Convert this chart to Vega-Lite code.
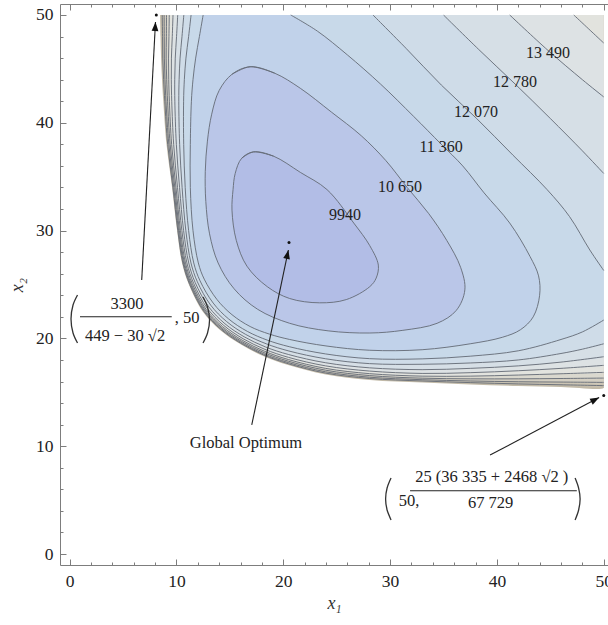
{
  "$schema": "https://vega.github.io/schema/vega-lite/v6.json",
  "width": 548,
  "height": 561,
  "autosize": {"type": "none"},
  "padding": {"left": 60, "top": 4, "right": 0, "bottom": 60},
  "background": "white",
  "config": {"view": {"stroke": "#7d7d7d", "strokeWidth": 1}, "font": "Liberation Serif"},
  "resolve": {"axis": {"x": "independent", "y": "independent"}},
  "datasets": {
    "c": [
      {"p":"p00","i":0,"x1":8.47,"x2":50,"s":null},{"p":"p00","i":1,"x1":8.51,"x2":48,"s":null},{"p":"p00","i":2,"x1":8.56,"x2":46,"s":null},{"p":"p00","i":3,"x1":8.65,"x2":44,"s":null},{"p":"p00","i":4,"x1":8.77,"x2":42,"s":null},{"p":"p00","i":5,"x1":9.07,"x2":38,"s":null},{"p":"p00","i":6,"x1":9.59,"x2":34,"s":null},{"p":"p00","i":7,"x1":10.06,"x2":30,"s":null},{"p":"p00","i":8,"x1":10.52,"x2":27,"s":null},{"p":"p00","i":9,"x1":11.18,"x2":24.95,"s":null},{"p":"p00","i":10,"x1":12.49,"x2":22.45,"s":null},{"p":"p00","i":11,"x1":14.08,"x2":20.78,"s":null},{"p":"p00","i":12,"x1":15.96,"x2":19.48,"s":null},{"p":"p00","i":13,"x1":18.11,"x2":18.37,"s":null},{"p":"p00","i":14,"x1":20.45,"x2":17.53,"s":null},{"p":"p00","i":15,"x1":23.97,"x2":16.65,"s":null},{"p":"p00","i":16,"x1":28.09,"x2":16.14,"s":null},{"p":"p00","i":17,"x1":33,"x2":15.91,"s":null},{"p":"p00","i":18,"x1":37.5,"x2":15.72,"s":null},{"p":"p00","i":19,"x1":42,"x2":15.58,"s":null},{"p":"p00","i":20,"x1":46,"x2":15.49,"s":null},{"p":"p00","i":21,"x1":50,"x2":15.4,"s":null},{"p":"p00","i":22,"x1":50,"x2":15.6,"s":null},{"p":"p00","i":23,"x1":50,"x2":49.8,"s":null},{"p":"p00","i":24,"x1":50,"x2":50,"s":null},

      {"p":"p01","i":0,"x1":8.67,"x2":50,"s":"s01"},{"p":"p01","i":1,"x1":8.70,"x2":48,"s":"s01"},{"p":"p01","i":2,"x1":8.72,"x2":46,"s":"s01"},{"p":"p01","i":3,"x1":8.80,"x2":44,"s":"s01"},{"p":"p01","i":4,"x1":8.91,"x2":42,"s":"s01"},{"p":"p01","i":5,"x1":9.18,"x2":38,"s":"s01"},{"p":"p01","i":6,"x1":9.67,"x2":34,"s":"s01"},{"p":"p01","i":7,"x1":10.13,"x2":30,"s":"s01"},{"p":"p01","i":8,"x1":10.60,"x2":27,"s":"s01"},{"p":"p01","i":9,"x1":11.25,"x2":24.98,"s":"s01"},{"p":"p01","i":10,"x1":12.56,"x2":22.51,"s":"s01"},{"p":"p01","i":11,"x1":14.14,"x2":20.85,"s":"s01"},{"p":"p01","i":12,"x1":16.00,"x2":19.56,"s":"s01"},{"p":"p01","i":13,"x1":18.14,"x2":18.47,"s":"s01"},{"p":"p01","i":14,"x1":20.46,"x2":17.65,"s":"s01"},{"p":"p01","i":15,"x1":23.97,"x2":16.78,"s":"s01"},{"p":"p01","i":16,"x1":28.09,"x2":16.28,"s":"s01"},{"p":"p01","i":17,"x1":33,"x2":16.05,"s":"s01"},{"p":"p01","i":18,"x1":37.5,"x2":15.9,"s":"s01"},{"p":"p01","i":19,"x1":42,"x2":15.78,"s":"s01"},{"p":"p01","i":20,"x1":46,"x2":15.7,"s":"s01"},{"p":"p01","i":21,"x1":50,"x2":15.62,"s":"s01"},{"p":"p01","i":22,"x1":50,"x2":15.82,"s":null},{"p":"p01","i":23,"x1":50,"x2":49.8,"s":null},{"p":"p01","i":24,"x1":50,"x2":50,"s":null},

      {"p":"p02","i":0,"x1":8.85,"x2":50,"s":"s02"},{"p":"p02","i":1,"x1":8.86,"x2":48,"s":"s02"},{"p":"p02","i":2,"x1":8.87,"x2":46,"s":"s02"},{"p":"p02","i":3,"x1":8.93,"x2":44,"s":"s02"},{"p":"p02","i":4,"x1":9.02,"x2":42,"s":"s02"},{"p":"p02","i":5,"x1":9.29,"x2":38,"s":"s02"},{"p":"p02","i":6,"x1":9.75,"x2":34,"s":"s02"},{"p":"p02","i":7,"x1":10.20,"x2":30,"s":"s02"},{"p":"p02","i":8,"x1":10.67,"x2":27,"s":"s02"},{"p":"p02","i":9,"x1":11.32,"x2":25.0,"s":"s02"},{"p":"p02","i":10,"x1":12.62,"x2":22.56,"s":"s02"},{"p":"p02","i":11,"x1":14.19,"x2":20.92,"s":"s02"},{"p":"p02","i":12,"x1":16.05,"x2":19.63,"s":"s02"},{"p":"p02","i":13,"x1":18.17,"x2":18.56,"s":"s02"},{"p":"p02","i":14,"x1":20.46,"x2":17.76,"s":"s02"},{"p":"p02","i":15,"x1":23.97,"x2":16.9,"s":"s02"},{"p":"p02","i":16,"x1":28.09,"x2":16.4,"s":"s02"},{"p":"p02","i":17,"x1":33,"x2":16.17,"s":"s02"},{"p":"p02","i":18,"x1":37.5,"x2":16.05,"s":"s02"},{"p":"p02","i":19,"x1":42,"x2":15.98,"s":"s02"},{"p":"p02","i":20,"x1":46,"x2":15.95,"s":"s02"},{"p":"p02","i":21,"x1":50,"x2":15.92,"s":"s02"},{"p":"p02","i":22,"x1":50,"x2":16.12,"s":null},{"p":"p02","i":23,"x1":50,"x2":49.8,"s":null},{"p":"p02","i":24,"x1":50,"x2":50,"s":null},

      {"p":"p03","i":0,"x1":9.07,"x2":50,"s":"s03"},{"p":"p03","i":1,"x1":9.06,"x2":48,"s":"s03"},{"p":"p03","i":2,"x1":9.04,"x2":46,"s":"s03"},{"p":"p03","i":3,"x1":9.09,"x2":44,"s":"s03"},{"p":"p03","i":4,"x1":9.17,"x2":42,"s":"s03"},{"p":"p03","i":5,"x1":9.41,"x2":38,"s":"s03"},{"p":"p03","i":6,"x1":9.85,"x2":34,"s":"s03"},{"p":"p03","i":7,"x1":10.28,"x2":30,"s":"s03"},{"p":"p03","i":8,"x1":10.75,"x2":27,"s":"s03"},{"p":"p03","i":9,"x1":11.39,"x2":25.03,"s":"s03"},{"p":"p03","i":10,"x1":12.69,"x2":22.62,"s":"s03"},{"p":"p03","i":11,"x1":14.25,"x2":20.99,"s":"s03"},{"p":"p03","i":12,"x1":16.1,"x2":19.72,"s":"s03"},{"p":"p03","i":13,"x1":18.2,"x2":18.68,"s":"s03"},{"p":"p03","i":14,"x1":20.47,"x2":17.89,"s":"s03"},{"p":"p03","i":15,"x1":23.97,"x2":17.05,"s":"s03"},{"p":"p03","i":16,"x1":28.09,"x2":16.55,"s":"s03"},{"p":"p03","i":17,"x1":33,"x2":16.31,"s":"s03"},{"p":"p03","i":18,"x1":37.5,"x2":16.25,"s":"s03"},{"p":"p03","i":19,"x1":42,"x2":16.25,"s":"s03"},{"p":"p03","i":20,"x1":46,"x2":16.28,"s":"s03"},{"p":"p03","i":21,"x1":50,"x2":16.32,"s":"s03"},{"p":"p03","i":22,"x1":50,"x2":16.52,"s":null},{"p":"p03","i":23,"x1":50,"x2":49.8,"s":null},{"p":"p03","i":24,"x1":50,"x2":50,"s":null},

      {"p":"p04","i":0,"x1":9.33,"x2":50,"s":"s04"},{"p":"p04","i":1,"x1":9.30,"x2":48,"s":"s04"},{"p":"p04","i":2,"x1":9.26,"x2":46,"s":"s04"},{"p":"p04","i":3,"x1":9.28,"x2":44,"s":"s04"},{"p":"p04","i":4,"x1":9.34,"x2":42,"s":"s04"},{"p":"p04","i":5,"x1":9.55,"x2":38,"s":"s04"},{"p":"p04","i":6,"x1":9.96,"x2":34,"s":"s04"},{"p":"p04","i":7,"x1":10.38,"x2":30,"s":"s04"},{"p":"p04","i":8,"x1":10.85,"x2":27,"s":"s04"},{"p":"p04","i":9,"x1":11.49,"x2":25.07,"s":"s04"},{"p":"p04","i":10,"x1":12.77,"x2":22.7,"s":"s04"},{"p":"p04","i":11,"x1":14.32,"x2":21.09,"s":"s04"},{"p":"p04","i":12,"x1":16.16,"x2":19.83,"s":"s04"},{"p":"p04","i":13,"x1":18.24,"x2":18.81,"s":"s04"},{"p":"p04","i":14,"x1":20.48,"x2":18.04,"s":"s04"},{"p":"p04","i":15,"x1":23.97,"x2":17.22,"s":"s04"},{"p":"p04","i":16,"x1":28.08,"x2":16.73,"s":"s04"},{"p":"p04","i":17,"x1":33,"x2":16.5,"s":"s04"},{"p":"p04","i":18,"x1":37.5,"x2":16.5,"s":"s04"},{"p":"p04","i":19,"x1":42,"x2":16.6,"s":"s04"},{"p":"p04","i":20,"x1":46,"x2":16.72,"s":"s04"},{"p":"p04","i":21,"x1":50,"x2":16.85,"s":"s04"},{"p":"p04","i":22,"x1":50,"x2":17.05,"s":null},{"p":"p04","i":23,"x1":50,"x2":49.8,"s":null},{"p":"p04","i":24,"x1":50,"x2":50,"s":null},

      {"p":"p05","i":0,"x1":9.68,"x2":50,"s":"s05a"},{"p":"p05","i":1,"x1":9.61,"x2":48,"s":"s05a"},{"p":"p05","i":2,"x1":9.53,"x2":46,"s":"s05a"},{"p":"p05","i":3,"x1":9.52,"x2":44,"s":"s05a"},{"p":"p05","i":4,"x1":9.56,"x2":42,"s":"s05a"},{"p":"p05","i":5,"x1":9.74,"x2":38,"s":"s05a"},{"p":"p05","i":6,"x1":10.10,"x2":34,"s":"s05a"},{"p":"p05","i":7,"x1":10.51,"x2":30,"s":"s05a"},{"p":"p05","i":8,"x1":10.98,"x2":27,"s":"s05a"},{"p":"p05","i":9,"x1":11.61,"x2":25.11,"s":"s05a"},{"p":"p05","i":10,"x1":12.88,"x2":22.8,"s":"s05a"},{"p":"p05","i":11,"x1":14.42,"x2":21.21,"s":"s05a"},{"p":"p05","i":12,"x1":16.24,"x2":19.97,"s":"s05a"},{"p":"p05","i":13,"x1":18.29,"x2":18.98,"s":"s05a"},{"p":"p05","i":14,"x1":20.49,"x2":18.24,"s":"s05a"},{"p":"p05","i":15,"x1":23.97,"x2":17.45,"s":"s05a"},{"p":"p05","i":16,"x1":28.08,"x2":16.97,"s":"s05a"},{"p":"p05","i":17,"x1":33,"x2":16.75,"s":"s05a"},{"p":"p05","i":18,"x1":37.5,"x2":16.82,"s":"s05a"},{"p":"p05","i":19,"x1":42,"x2":17.0,"s":"s05a"},{"p":"p05","i":20,"x1":46,"x2":17.22,"s":"s05a"},{"p":"p05","i":21,"x1":50,"x2":17.5,"s":"s05a"},{"p":"p05","i":22,"x1":50,"x2":17.7,"s":null},{"p":"p05","i":23,"x1":50,"x2":47.2,"s":null},{"p":"p05","i":24,"x1":50,"x2":47.4,"s":"s05b"},{"p":"p05","i":25,"x1":48.6,"x2":48.7,"s":"s05b"},{"p":"p05","i":26,"x1":47.2,"x2":50,"s":"s05b"},

      {"p":"p06","i":0,"x1":10.12,"x2":50,"s":"s06a"},{"p":"p06","i":1,"x1":10.01,"x2":48,"s":"s06a"},{"p":"p06","i":2,"x1":9.89,"x2":46,"s":"s06a"},{"p":"p06","i":3,"x1":9.84,"x2":44,"s":"s06a"},{"p":"p06","i":4,"x1":9.85,"x2":42,"s":"s06a"},{"p":"p06","i":5,"x1":9.99,"x2":38,"s":"s06a"},{"p":"p06","i":6,"x1":10.29,"x2":34,"s":"s06a"},{"p":"p06","i":7,"x1":10.67,"x2":30,"s":"s06a"},{"p":"p06","i":8,"x1":11.15,"x2":27,"s":"s06a"},{"p":"p06","i":9,"x1":11.76,"x2":25.17,"s":"s06a"},{"p":"p06","i":10,"x1":13.03,"x2":22.92,"s":"s06a"},{"p":"p06","i":11,"x1":14.54,"x2":21.36,"s":"s06a"},{"p":"p06","i":12,"x1":16.34,"x2":20.15,"s":"s06a"},{"p":"p06","i":13,"x1":18.35,"x2":19.2,"s":"s06a"},{"p":"p06","i":14,"x1":20.51,"x2":18.5,"s":"s06a"},{"p":"p06","i":15,"x1":23.97,"x2":17.74,"s":"s06a"},{"p":"p06","i":16,"x1":28.08,"x2":17.27,"s":"s06a"},{"p":"p06","i":17,"x1":33,"x2":17.1,"s":"s06a"},{"p":"p06","i":18,"x1":37.5,"x2":17.22,"s":"s06a"},{"p":"p06","i":19,"x1":42,"x2":17.45,"s":"s06a"},{"p":"p06","i":20,"x1":46,"x2":17.8,"s":"s06a"},{"p":"p06","i":21,"x1":50,"x2":18.3,"s":"s06a"},{"p":"p06","i":22,"x1":50,"x2":18.5,"s":null},{"p":"p06","i":23,"x1":50,"x2":42.2,"s":null},{"p":"p06","i":24,"x1":50,"x2":42.4,"s":"s06b"},{"p":"p06","i":25,"x1":48.0,"x2":44.0,"s":"s06b"},{"p":"p06","i":26,"x1":44.8,"x2":46.7,"s":"s06b"},{"p":"p06","i":27,"x1":41.2,"x2":50,"s":"s06b"},

      {"p":"p07","i":0,"x1":10.69,"x2":50,"s":"s07a"},{"p":"p07","i":1,"x1":10.52,"x2":48,"s":"s07a"},{"p":"p07","i":2,"x1":10.34,"x2":46,"s":"s07a"},{"p":"p07","i":3,"x1":10.25,"x2":44,"s":"s07a"},{"p":"p07","i":4,"x1":10.22,"x2":42,"s":"s07a"},{"p":"p07","i":5,"x1":10.30,"x2":38,"s":"s07a"},{"p":"p07","i":6,"x1":10.53,"x2":34,"s":"s07a"},{"p":"p07","i":7,"x1":10.88,"x2":30,"s":"s07a"},{"p":"p07","i":8,"x1":11.36,"x2":27,"s":"s07a"},{"p":"p07","i":9,"x1":11.96,"x2":25.25,"s":"s07a"},{"p":"p07","i":10,"x1":13.21,"x2":23.08,"s":"s07a"},{"p":"p07","i":11,"x1":14.70,"x2":21.56,"s":"s07a"},{"p":"p07","i":12,"x1":16.48,"x2":20.37,"s":"s07a"},{"p":"p07","i":13,"x1":18.43,"x2":19.49,"s":"s07a"},{"p":"p07","i":14,"x1":20.53,"x2":18.83,"s":"s07a"},{"p":"p07","i":15,"x1":23.97,"x2":18.11,"s":"s07a"},{"p":"p07","i":16,"x1":28.08,"x2":17.66,"s":"s07a"},{"p":"p07","i":17,"x1":33,"x2":17.6,"s":"s07a"},{"p":"p07","i":18,"x1":37.5,"x2":17.72,"s":"s07a"},{"p":"p07","i":19,"x1":42,"x2":18.0,"s":"s07a"},{"p":"p07","i":20,"x1":46,"x2":18.6,"s":"s07a"},{"p":"p07","i":21,"x1":48,"x2":19.0,"s":"s07a"},{"p":"p07","i":22,"x1":50,"x2":19.5,"s":"s07a"},{"p":"p07","i":23,"x1":50,"x2":19.7,"s":null},{"p":"p07","i":24,"x1":50,"x2":35.1,"s":null},{"p":"p07","i":25,"x1":50,"x2":35.3,"s":"s07b"},{"p":"p07","i":26,"x1":48,"x2":37.4,"s":"s07b"},{"p":"p07","i":27,"x1":45,"x2":40.4,"s":"s07b"},{"p":"p07","i":28,"x1":41.7,"x2":43.6,"s":"s07b"},{"p":"p07","i":29,"x1":38.3,"x2":46.8,"s":"s07b"},{"p":"p07","i":30,"x1":35.0,"x2":50,"s":"s07b"},

      {"p":"p08","i":0,"x1":11.37,"x2":50,"s":"s08a"},{"p":"p08","i":1,"x1":11.14,"x2":48,"s":"s08a"},{"p":"p08","i":2,"x1":10.89,"x2":46,"s":"s08a"},{"p":"p08","i":3,"x1":10.74,"x2":44,"s":"s08a"},{"p":"p08","i":4,"x1":10.67,"x2":42,"s":"s08a"},{"p":"p08","i":5,"x1":10.68,"x2":38,"s":"s08a"},{"p":"p08","i":6,"x1":10.82,"x2":34,"s":"s08a"},{"p":"p08","i":7,"x1":11.14,"x2":30,"s":"s08a"},{"p":"p08","i":8,"x1":11.62,"x2":27,"s":"s08a"},{"p":"p08","i":9,"x1":12.21,"x2":25.34,"s":"s08a"},{"p":"p08","i":10,"x1":13.44,"x2":23.28,"s":"s08a"},{"p":"p08","i":11,"x1":14.89,"x2":21.8,"s":"s08a"},{"p":"p08","i":12,"x1":16.64,"x2":20.65,"s":"s08a"},{"p":"p08","i":13,"x1":18.53,"x2":19.83,"s":"s08a"},{"p":"p08","i":14,"x1":20.56,"x2":19.23,"s":"s08a"},{"p":"p08","i":15,"x1":23.96,"x2":18.56,"s":"s08a"},{"p":"p08","i":16,"x1":28.07,"x2":18.12,"s":"s08a"},{"p":"p08","i":17,"x1":33,"x2":18.1,"s":"s08a"},{"p":"p08","i":18,"x1":37.5,"x2":18.35,"s":"s08a"},{"p":"p08","i":19,"x1":42,"x2":18.85,"s":"s08a"},{"p":"p08","i":20,"x1":46,"x2":19.9,"s":"s08a"},{"p":"p08","i":21,"x1":48,"x2":20.6,"s":"s08a"},{"p":"p08","i":22,"x1":50,"x2":21.7,"s":"s08a"},{"p":"p08","i":23,"x1":50,"x2":21.9,"s":null},{"p":"p08","i":24,"x1":50,"x2":26.1,"s":null},{"p":"p08","i":25,"x1":50,"x2":26.3,"s":"s08b"},{"p":"p08","i":26,"x1":48.7,"x2":28.2,"s":"s08b"},{"p":"p08","i":27,"x1":46.8,"x2":31.3,"s":"s08b"},{"p":"p08","i":28,"x1":44.7,"x2":33.8,"s":"s08b"},{"p":"p08","i":29,"x1":41.5,"x2":37.0,"s":"s08b"},{"p":"p08","i":30,"x1":38.1,"x2":40.4,"s":"s08b"},{"p":"p08","i":31,"x1":34.8,"x2":43.5,"s":"s08b"},{"p":"p08","i":32,"x1":31.5,"x2":46.9,"s":"s08b"},{"p":"p08","i":33,"x1":28.4,"x2":50,"s":"s08b"},

      {"p":"p09","i":0,"x1":12.5,"x2":50,"s":"s09"},{"p":"p09","i":1,"x1":12.15,"x2":48,"s":"s09"},{"p":"p09","i":2,"x1":11.8,"x2":46,"s":"s09"},{"p":"p09","i":3,"x1":11.55,"x2":44,"s":"s09"},{"p":"p09","i":4,"x1":11.4,"x2":42,"s":"s09"},{"p":"p09","i":5,"x1":11.3,"x2":38,"s":"s09"},{"p":"p09","i":6,"x1":11.3,"x2":34,"s":"s09"},{"p":"p09","i":7,"x1":11.55,"x2":30,"s":"s09"},{"p":"p09","i":8,"x1":12.05,"x2":27,"s":"s09"},{"p":"p09","i":9,"x1":12.6,"x2":25.5,"s":"s09"},{"p":"p09","i":10,"x1":13.8,"x2":23.6,"s":"s09"},{"p":"p09","i":11,"x1":15.2,"x2":22.2,"s":"s09"},{"p":"p09","i":12,"x1":16.9,"x2":21.1,"s":"s09"},{"p":"p09","i":13,"x1":18.7,"x2":20.4,"s":"s09"},{"p":"p09","i":14,"x1":20.6,"x2":19.9,"s":"s09"},{"p":"p09","i":15,"x1":24.0,"x2":19.3,"s":"s09"},{"p":"p09","i":16,"x1":28.1,"x2":18.9,"s":"s09"},{"p":"p09","i":17,"x1":33,"x2":18.95,"s":"s09"},{"p":"p09","i":18,"x1":37.5,"x2":19.5,"s":"s09"},{"p":"p09","i":19,"x1":40.5,"x2":20.1,"s":"s09"},{"p":"p09","i":20,"x1":42.2,"x2":20.8,"s":"s09"},{"p":"p09","i":21,"x1":43.4,"x2":22.0,"s":"s09"},{"p":"p09","i":22,"x1":44.0,"x2":24.0,"s":"s09"},{"p":"p09","i":23,"x1":43.9,"x2":25.8,"s":"s09"},{"p":"p09","i":24,"x1":43.1,"x2":27.6,"s":"s09"},{"p":"p09","i":25,"x1":41.2,"x2":30.7,"s":"s09"},{"p":"p09","i":26,"x1":38.8,"x2":33.5,"s":"s09"},{"p":"p09","i":27,"x1":36.8,"x2":36.0,"s":"s09"},{"p":"p09","i":28,"x1":34.8,"x2":38.0,"s":"s09"},{"p":"p09","i":29,"x1":32.2,"x2":40.6,"s":"s09"},{"p":"p09","i":30,"x1":29.1,"x2":43.6,"s":"s09"},{"p":"p09","i":31,"x1":26.0,"x2":46.3,"s":"s09"},{"p":"p09","i":32,"x1":23.2,"x2":48.5,"s":"s09"},{"p":"p09","i":33,"x1":20.7,"x2":50,"s":"s09"},

      {"p":"p10","i":0,"x1":15.2,"x2":44.5,"s":"s10"},{"p":"p10","i":1,"x1":16.9,"x2":45.2,"s":"s10"},{"p":"p10","i":2,"x1":19.2,"x2":44.6,"s":"s10"},{"p":"p10","i":3,"x1":21.6,"x2":43.2,"s":"s10"},{"p":"p10","i":4,"x1":24.5,"x2":41.0,"s":"s10"},{"p":"p10","i":5,"x1":27.3,"x2":38.8,"s":"s10"},{"p":"p10","i":6,"x1":29.6,"x2":36.5,"s":"s10"},{"p":"p10","i":7,"x1":31.6,"x2":34.0,"s":"s10"},{"p":"p10","i":8,"x1":33.6,"x2":31.6,"s":"s10"},{"p":"p10","i":9,"x1":35.3,"x2":29.1,"s":"s10"},{"p":"p10","i":10,"x1":36.6,"x2":26.6,"s":"s10"},{"p":"p10","i":11,"x1":37.0,"x2":24.5,"s":"s10"},{"p":"p10","i":12,"x1":36.2,"x2":22.6,"s":"s10"},{"p":"p10","i":13,"x1":34.4,"x2":21.4,"s":"s10"},{"p":"p10","i":14,"x1":31.2,"x2":20.75,"s":"s10"},{"p":"p10","i":15,"x1":28.1,"x2":20.5,"s":"s10"},{"p":"p10","i":16,"x1":24.2,"x2":20.7,"s":"s10"},{"p":"p10","i":17,"x1":20.6,"x2":21.4,"s":"s10"},{"p":"p10","i":18,"x1":17.6,"x2":22.7,"s":"s10"},{"p":"p10","i":19,"x1":15.4,"x2":24.6,"s":"s10"},{"p":"p10","i":20,"x1":13.9,"x2":27.0,"s":"s10"},{"p":"p10","i":21,"x1":13.1,"x2":29.7,"s":"s10"},{"p":"p10","i":22,"x1":12.75,"x2":32.7,"s":"s10"},{"p":"p10","i":23,"x1":12.7,"x2":35.5,"s":"s10"},{"p":"p10","i":24,"x1":12.9,"x2":38.3,"s":"s10"},{"p":"p10","i":25,"x1":13.3,"x2":40.8,"s":"s10"},{"p":"p10","i":26,"x1":14.0,"x2":43.0,"s":"s10"},{"p":"p10","i":27,"x1":15.2,"x2":44.5,"s":"s10"},{"p":"p10","i":28,"x1":16.9,"x2":45.2,"s":"s10"},{"p":"p10","i":29,"x1":19.2,"x2":44.6,"s":"s10"},

      {"p":"p11","i":0,"x1":16.1,"x2":36.7,"s":"s11"},{"p":"p11","i":1,"x1":17.2,"x2":37.3,"s":"s11"},{"p":"p11","i":2,"x1":19.1,"x2":36.9,"s":"s11"},{"p":"p11","i":3,"x1":21.6,"x2":35.4,"s":"s11"},{"p":"p11","i":4,"x1":24.1,"x2":33.8,"s":"s11"},{"p":"p11","i":5,"x1":26.6,"x2":30.7,"s":"s11"},{"p":"p11","i":6,"x1":28.1,"x2":28.6,"s":"s11"},{"p":"p11","i":7,"x1":28.9,"x2":26.8,"s":"s11"},{"p":"p11","i":8,"x1":28.7,"x2":25.6,"s":"s11"},{"p":"p11","i":9,"x1":28.1,"x2":24.8,"s":"s11"},{"p":"p11","i":10,"x1":25.9,"x2":23.6,"s":"s11"},{"p":"p11","i":11,"x1":23.4,"x2":23.3,"s":"s11"},{"p":"p11","i":12,"x1":20.6,"x2":23.7,"s":"s11"},{"p":"p11","i":13,"x1":18.5,"x2":24.8,"s":"s11"},{"p":"p11","i":14,"x1":16.6,"x2":26.7,"s":"s11"},{"p":"p11","i":15,"x1":15.6,"x2":29.1,"s":"s11"},{"p":"p11","i":16,"x1":15.2,"x2":31.9,"s":"s11"},{"p":"p11","i":17,"x1":15.3,"x2":33.8,"s":"s11"},{"p":"p11","i":18,"x1":15.5,"x2":35.3,"s":"s11"},{"p":"p11","i":19,"x1":16.1,"x2":36.7,"s":"s11"},{"p":"p11","i":20,"x1":17.2,"x2":37.3,"s":"s11"},{"p":"p11","i":21,"x1":19.1,"x2":36.9,"s":"s11"}
    ],
    "labels": [
      {"t":"9940","x1":25.79,"x2":31.45},
      {"t":"10 650","x1":30.94,"x2":34.04},
      {"t":"11 360","x1":34.78,"x2":37.76},
      {"t":"12 070","x1":38.05,"x2":41.0},
      {"t":"12 780","x1":41.7,"x2":43.78},
      {"t":"13 490","x1":44.79,"x2":46.47}
    ],
    "notes": [
      {"t":"3300","x1":5.37,"x2":23.2},
      {"t":"449 − 30 √2","x1":5.19,"x2":20.25},
      {"t":", 50","x1":11.0,"x2":21.9},
      {"t":"50,","x1":31.78,"x2":4.88},
      {"t":"25 (36 335 + 2468 √2 )","x1":39.52,"x2":7.17},
      {"t":"67 729","x1":39.41,"x2":4.73},
      {"t":"Global Optimum","x1":16.5,"x2":10.3}
    ],
    "parens": [
      {"g":"a","i":0,"x1":0.74,"x2":24.03},{"g":"a","i":1,"x1":0.32,"x2":23.10},{"g":"a","i":2,"x1":0.13,"x2":21.80},{"g":"a","i":3,"x1":0.32,"x2":20.50},{"g":"a","i":4,"x1":0.74,"x2":19.57},
      {"g":"b","i":0,"x1":12.49,"x2":23.84},{"g":"b","i":1,"x1":12.91,"x2":22.91},{"g":"b","i":2,"x1":13.10,"x2":21.71},{"g":"b","i":3,"x1":12.91,"x2":20.50},{"g":"b","i":4,"x1":12.49,"x2":19.57},
      {"g":"c","i":0,"x1":30.09,"x2":7.05},{"g":"c","i":1,"x1":29.72,"x2":6.12},{"g":"c","i":2,"x1":29.58,"x2":5.10},{"g":"c","i":3,"x1":29.72,"x2":4.08},{"g":"c","i":4,"x1":30.09,"x2":3.15},
      {"g":"d","i":0,"x1":47.32,"x2":7.05},{"g":"d","i":1,"x1":47.65,"x2":6.12},{"g":"d","i":2,"x1":47.79,"x2":5.10},{"g":"d","i":3,"x1":47.65,"x2":4.08},{"g":"d","i":4,"x1":47.32,"x2":3.15}
    ],
    "segs": [
      {"x1":0.97,"x2":22.01,"x1e":9.56,"x2e":22.01},
      {"x1":31.87,"x2":5.87,"x1e":47.48,"x2e":5.87},
      {"x1":6.75,"x2":25.42,"x1e":8.04,"x2e":49.35},
      {"x1":17.05,"x2":11.97,"x1e":20.48,"x2e":28.2},
      {"x1":39.36,"x2":9.18,"x1e":49.57,"x2e":14.52}
    ],
    "heads": [
      {"x1":8.04,"x2":49.35,"ang":3.1},
      {"x1":20.48,"x2":28.2,"ang":11.8},
      {"x1":49.57,"x2":14.52,"ang":62.2}
    ],
    "dots": [
      {"x1":8.117,"x2":50},
      {"x1":20.54,"x2":28.9},
      {"x1":50,"x2":14.7}
    ]
  },
  "layer": [
    {
      "data": {"name": "c"},
      "mark": {"type": "line", "interpolate": "catmull-rom", "strokeOpacity": 0, "strokeWidth": 0},
      "encoding": {
        "x": {"field": "x1", "type": "quantitative", "scale": {"domain": [-0.9, 50.4], "nice": false, "zero": false},
          "axis": {"orient": "bottom", "values": [0, 10, 20, 30, 40, 50], "tickSize": -6, "tickColor": "#7d7d7d", "domain": false, "grid": false, "labelFont": "Liberation Serif", "labelFontSize": 17.5, "labelColor": "#222222", "labelPadding": 13, "labelBaseline": "top", "title": "x₁", "titleFont": "Liberation Serif", "titleFontStyle": "italic", "titleFontWeight": "normal", "titleFontSize": 18, "titleColor": "#333333", "titlePadding": 5}},
        "y": {"field": "x2", "type": "quantitative", "scale": {"domain": [-1.02, 51.02], "nice": false, "zero": false},
          "axis": {"orient": "left", "values": [0, 10, 20, 30, 40, 50], "tickSize": -6, "tickColor": "#7d7d7d", "domain": false, "grid": false, "labelFont": "Liberation Serif", "labelFontSize": 17.5, "labelColor": "#222222", "labelPadding": 13, "title": "x₂", "titleFont": "Liberation Serif", "titleFontStyle": "italic", "titleFontWeight": "normal", "titleFontSize": 18, "titleColor": "#333333", "titlePadding": 9}},
        "fill": {"field": "p", "type": "nominal", "legend": null,
          "scale": {"domain": ["p00","p01","p02","p03","p04","p05","p06","p07","p08","p09","p10","p11"],
                    "range": ["#c2baa8","#cbc4b4","#d3cec1","#dad8ce","#e2e3de","#dde2e4","#d6dfe6","#cfdce8","#c8d9e9","#c1d2ea","#bac6e8","#b2bde6"]}},
        "order": {"field": "i", "type": "quantitative"}
      }
    },
    {
      "data": {"name": "c"},
      "transform": [{"filter": "datum.s != null"}],
      "mark": {"type": "line", "interpolate": "catmull-rom", "stroke": "#646a75", "strokeWidth": 1, "strokeOpacity": 0.9},
      "encoding": {
        "x": {"field": "x1", "type": "quantitative", "scale": {"domain": [-0.9, 50.4], "nice": false, "zero": false},
          "axis": {"orient": "bottom", "values": [2,4,6,8,12,14,16,18,22,24,26,28,32,34,36,38,42,44,46,48], "tickSize": -3, "tickColor": "#7d7d7d", "domain": false, "grid": false, "labels": false, "title": null}},
        "y": {"field": "x2", "type": "quantitative", "scale": {"domain": [-1.02, 51.02], "nice": false, "zero": false},
          "axis": {"orient": "left", "values": [2,4,6,8,12,14,16,18,22,24,26,28,32,34,36,38,42,44,46,48], "tickSize": -3, "tickColor": "#7d7d7d", "domain": false, "grid": false, "labels": false, "title": null}},
        "detail": {"field": "s", "type": "nominal"},
        "order": {"field": "i", "type": "quantitative"}
      }
    },
    {
      "data": {"name": "labels"},
      "mark": {"type": "text", "font": "Liberation Serif", "fontSize": 16, "color": "#222222", "align": "center", "baseline": "middle"},
      "encoding": {
        "x": {"field": "x1", "type": "quantitative", "scale": {"domain": [-0.9, 50.4], "nice": false, "zero": false},
          "axis": {"orient": "top", "values": [0, 10, 20, 30, 40, 50], "tickSize": -6, "tickColor": "#7d7d7d", "domain": false, "grid": false, "labels": false, "title": null}},
        "y": {"field": "x2", "type": "quantitative", "scale": {"domain": [-1.02, 51.02], "nice": false, "zero": false}, "axis": null},
        "text": {"field": "t"}
      }
    },
    {
      "data": {"name": "notes"},
      "mark": {"type": "text", "font": "Liberation Serif", "fontSize": 16.5, "color": "#222222", "align": "center", "baseline": "middle"},
      "encoding": {
        "x": {"field": "x1", "type": "quantitative", "scale": {"domain": [-0.9, 50.4], "nice": false, "zero": false},
          "axis": {"orient": "top", "values": [2,4,6,8,12,14,16,18,22,24,26,28,32,34,36,38,42,44,46,48], "tickSize": -3, "tickColor": "#7d7d7d", "domain": false, "grid": false, "labels": false, "title": null}},
        "y": {"field": "x2", "type": "quantitative", "scale": {"domain": [-1.02, 51.02], "nice": false, "zero": false}, "axis": null},
        "text": {"field": "t"}
      }
    },
    {
      "data": {"name": "parens"},
      "mark": {"type": "line", "interpolate": "catmull-rom", "stroke": "#333333", "strokeWidth": 1.3},
      "encoding": {
        "x": {"field": "x1", "type": "quantitative", "scale": {"domain": [-0.9, 50.4], "nice": false, "zero": false}, "axis": null},
        "y": {"field": "x2", "type": "quantitative", "scale": {"domain": [-1.02, 51.02], "nice": false, "zero": false}, "axis": null},
        "detail": {"field": "g", "type": "nominal"},
        "order": {"field": "i", "type": "quantitative"}
      }
    },
    {
      "data": {"name": "segs"},
      "mark": {"type": "rule", "color": "#222222", "strokeWidth": 1.1},
      "encoding": {
        "x": {"field": "x1", "type": "quantitative", "scale": {"domain": [-0.9, 50.4], "nice": false, "zero": false}, "axis": null},
        "y": {"field": "x2", "type": "quantitative", "scale": {"domain": [-1.02, 51.02], "nice": false, "zero": false}, "axis": null},
        "x2": {"field": "x1e"},
        "y2": {"field": "x2e"}
      }
    },
    {
      "data": {"name": "heads"},
      "mark": {"type": "point", "shape": "M0,0L0.75,2L-0.75,2Z", "size": 81, "filled": true, "color": "#111111", "opacity": 1},
      "encoding": {
        "x": {"field": "x1", "type": "quantitative", "scale": {"domain": [-0.9, 50.4], "nice": false, "zero": false}, "axis": null},
        "y": {"field": "x2", "type": "quantitative", "scale": {"domain": [-1.02, 51.02], "nice": false, "zero": false}, "axis": null},
        "angle": {"field": "ang", "type": "quantitative", "scale": null}
      }
    },
    {
      "data": {"name": "dots"},
      "mark": {"type": "circle", "size": 9, "color": "#111111", "opacity": 1},
      "encoding": {
        "x": {"field": "x1", "type": "quantitative", "scale": {"domain": [-0.9, 50.4], "nice": false, "zero": false}, "axis": null},
        "y": {"field": "x2", "type": "quantitative", "scale": {"domain": [-1.02, 51.02], "nice": false, "zero": false}, "axis": null}
      }
    }
  ]
}
